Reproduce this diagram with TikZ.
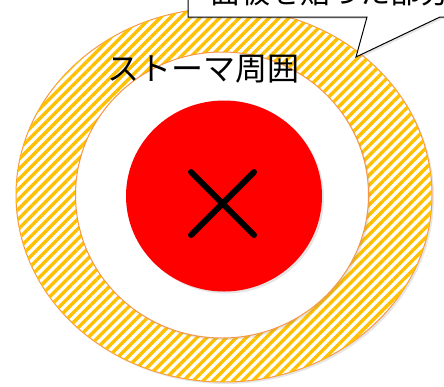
\documentclass[tikz,border=0pt]{standalone}
\usepackage{fontspec}
\setmainfont{Noto Sans CJK JP}
\usetikzlibrary{shapes.geometric,shadows,patterns.meta}
\definecolor{hatchyellow}{HTML}{FFC000}
\definecolor{rimorange}{HTML}{F79646}
\begin{document}
\begin{tikzpicture}[x=1pt,y=-1pt,thick,
  soft shadow/.style={drop shadow={opacity=0.2,shadow xshift=2pt,shadow yshift=-2pt}},
  ring/.style={ellipse,inner sep=0pt,draw=rimorange,line width=1pt,soft shadow},
  label text/.style={font=\fontsize{32}{32}\selectfont,inner sep=0pt}]
  \useasboundingbox (0,0) rectangle (444,386);
  \clip (0,0) rectangle (444,386);

  % hatched rim round the stoma
  \node[ring,minimum width=416pt,minimum height=374pt,
        fill=white,postaction={pattern={Lines[angle=45,distance=7pt,line width=3.4pt]},pattern color=hatchyellow}]
        (outer) at (224,195) {};
  \node[ring,minimum width=293pt,minimum height=286pt,fill=white] (inner) at (222,195) {};
  \node[ellipse,inner sep=0pt,fill=red,minimum width=196pt,minimum height=191pt,soft shadow] (stoma) at (224,196) {};

  % cross
  \coordinate (c1) at (191,172);
  \coordinate (c2) at (254,235);
  \coordinate (c3) at (191,235);
  \coordinate (c4) at (254,172);
  \draw[line width=6pt,line cap=round] (c1) -- (c2) (c3) -- (c4);

  \node[label text] (peri) at (203,69) {ストーマ周囲};

  % callout
  \coordinate (tip) at (356,57);
  \draw[fill=white,line width=1pt,soft shadow]
    (188,-40) -- (188,17) -- (367,17) -- (tip) -- (440,17) -- (480,17) -- (480,-40) -- cycle;
  \node[label text,font=\fontsize{30}{30}\selectfont,anchor=base west] (plate) at (210,3) {面板を貼った部分};
\end{tikzpicture}
\end{document}
